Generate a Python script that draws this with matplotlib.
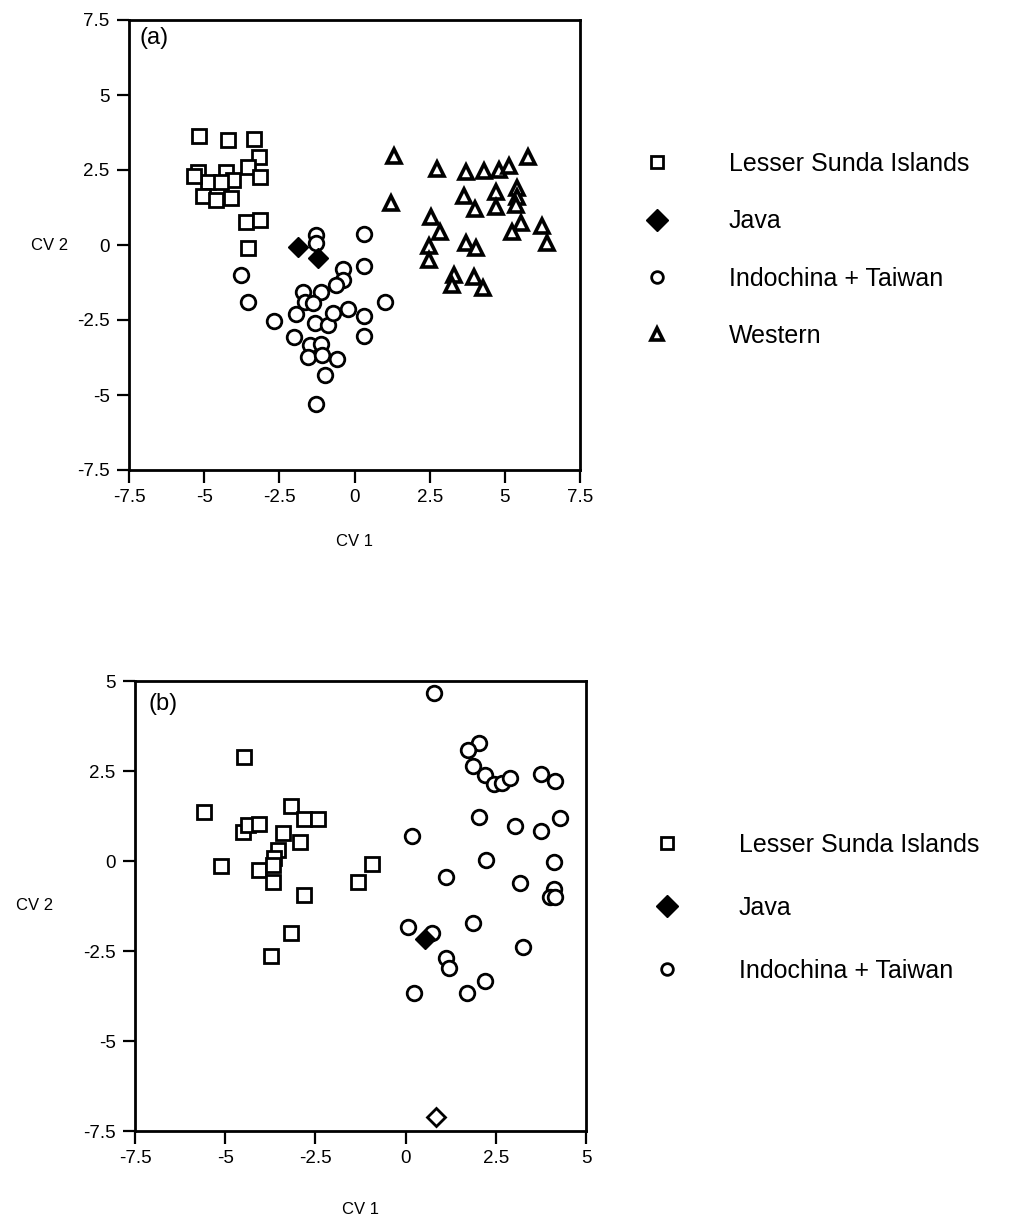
import matplotlib
matplotlib.use("Agg")
import matplotlib.pyplot as plt

plt.rcParams['font.family'] = ['Liberation Sans', 'DejaVu Sans']
plt.rcParams['axes.unicode_minus'] = False

# ---- panel (a) data (CV1, CV2) ----
lesser_a_x = [-5.17, -4.2, -3.33, -3.17, -5.2, -4.87, -4.27, -4.03, -3.53, -3.13,
              -5.03, -4.6, -4.1, -4.43, -5.33, -3.6, -3.13, -3.53]
lesser_a_y = [3.63, 3.5, 3.53, 2.93, 2.43, 2.1, 2.43, 2.17, 2.6, 2.27,
              1.63, 1.5, 1.57, 2.1, 2.3, 0.77, 0.83, -0.1]
java_a_x = [-1.87, -1.2]
java_a_y = [-0.07, -0.43]
indo_a_x = [-1.27, -1.27, 0.33, 0.3, -0.37, -0.37, -0.6, -3.77, -3.53, -1.7,
            -1.13, -1.63, -1.37, -1.93, -1.3, -0.87, -0.7, -0.2, 0.33, 1.0,
            -2.67, -2.0, 0.33, -1.47, -1.13, -1.53, -1.07, -0.57, -0.97, -1.27]
indo_a_y = [0.33, 0.07, 0.37, -0.7, -0.8, -1.17, -1.33, -1.0, -1.9, -1.57,
            -1.57, -1.9, -1.93, -2.3, -2.6, -2.67, -2.27, -2.13, -2.37, -1.9,
            -2.53, -3.07, -3.03, -3.33, -3.3, -3.73, -3.67, -3.8, -4.33, -5.3]
west_a_x = [1.3, 1.23, 2.73, 3.7, 4.3, 4.8, 5.13, 5.77, 3.63, 4.0,
            4.7, 4.7, 5.4, 5.4, 5.37, 2.53, 2.83, 5.53, 5.23, 6.23,
            6.4, 2.47, 2.47, 3.7, 4.03, 3.3, 3.23, 3.97, 4.27]
west_a_y = [2.97, 1.4, 2.53, 2.43, 2.47, 2.5, 2.63, 2.93, 1.63, 1.2,
            1.77, 1.27, 1.9, 1.6, 1.33, 0.93, 0.43, 0.73, 0.43, 0.63,
            0.07, -0.03, -0.5, 0.07, -0.1, -1.0, -1.33, -1.07, -1.43]

# ---- panel (b) data ----
lesser_b_x = [-4.47, -5.58, -3.17, -2.81, -2.44, -4.5, -4.36, -4.06, -3.39, -3.53,
              -2.94, -3.64, -5.11, -4.06, -3.67, -3.67, -2.81, -1.31, -0.94, -3.17,
              -3.72]
lesser_b_y = [2.89, 1.36, 1.53, 1.17, 1.17, 0.81, 1.0, 1.03, 0.78, 0.31,
              0.53, 0.08, -0.14, -0.25, -0.11, -0.58, -0.94, -0.58, -0.08, -2.0,
              -2.64]
java_b_x = [0.53]
java_b_y = [-2.17]
indo_b_x = [0.78, 2.03, 1.72, 1.86, 2.19, 2.44, 2.67, 2.89, 3.75, 4.14,
            2.03, 3.03, 3.75, 4.28, 0.17, 2.22, 4.11, 1.11, 3.17, 4.11,
            4.0, 4.14, 0.08, 0.72, 1.86, 3.25, 1.11, 1.19, 2.19, 0.22,
            1.69]
indo_b_y = [4.67, 3.28, 3.08, 2.64, 2.39, 2.14, 2.17, 2.31, 2.42, 2.22,
            1.22, 0.97, 0.83, 1.19, 0.69, 0.03, -0.03, -0.44, -0.61, -0.78,
            -1.0, -1.0, -1.83, -2.0, -1.72, -2.39, -2.69, -2.97, -3.33, -3.67,
            -3.67]
odd_b_x = [0.83]
odd_b_y = [-7.1]

ticks_a = [-7.5, -5, -2.5, 0, 2.5, 5, 7.5]
labels_a = ['-7.5', '-5', '-2.5', '0', '2.5', '5', '7.5']
ticks_b = [-7.5, -5, -2.5, 0, 2.5, 5]
labels_b = ['-7.5', '-5', '-2.5', '0', '2.5', '5']

W, H = 1011, 1220
fig = plt.figure(figsize=(W / 100, H / 100), dpi=100)
ax1 = fig.add_axes([129 / W, 1 - 470 / H, 451 / W, 450 / H])
ax2 = fig.add_axes([135 / W, 1 - 1131 / H, 451 / W, 450 / H])

sq = dict(marker='s', ms=10.5, mfc='white', mec='black', mew=2.0, ls='none')
di = dict(marker='D', ms=10.5, mfc='black', mec='black', mew=1.0, ls='none')
ci = dict(marker='o', ms=10.5, mfc='white', mec='black', mew=2.0, ls='none')
tr = dict(marker='^', ms=10, mfc='white', mec='black', mew=2.6, ls='none')


def style_axes(ax, ticks, labels, lim):
    ax.set_xlim(lim)
    ax.set_ylim(lim)
    ax.set_xticks(ticks, labels)
    ax.set_yticks(ticks, labels)
    ax.tick_params(direction='out', length=9, width=1.6, labelsize=13.5, pad=5)
    for s in ax.spines.values():
        s.set_linewidth(2)
    ax.set_xlabel('CV 1', fontsize=12, va='center')
    ax.set_ylabel('CV 2', fontsize=12, rotation=0, va='center', ha='center')


ax1.plot(lesser_a_x, lesser_a_y, label='Lesser Sunda Islands', **sq)
ax1.plot(indo_a_x, indo_a_y, label='Indochina + Taiwan', **ci)
ax1.plot(west_a_x, west_a_y, label='Western', **tr)
ax1.plot(java_a_x, java_a_y, label='Java', **di)
style_axes(ax1, ticks_a, labels_a, (-7.5, 7.5))
ax1.xaxis.set_label_coords(0.5, -72 / 450)
ax1.yaxis.set_label_coords(-79 / 451, 0.5)
ax1.text(0.024, 0.984, '(a)', transform=ax1.transAxes, fontsize=17, va='top')

ax2.plot(lesser_b_x, lesser_b_y, label='Lesser Sunda Islands', **sq)
ax2.plot(indo_b_x, indo_b_y, label='Indochina + Taiwan', **ci)
ax2.plot(java_b_x, java_b_y, label='Java', **di)
ax2.plot(odd_b_x, odd_b_y, marker='D', ms=9, mfc='white', mec='black', mew=2, ls='none',
         clip_on=False)
style_axes(ax2, ticks_b, labels_b, (-7.5, 5))
ax2.xaxis.set_label_coords(0.5, -79 / 450)
ax2.yaxis.set_label_coords(-100 / 451, 0.5)
ax2.text(0.029, 0.973, '(b)', transform=ax2.transAxes, fontsize=17, va='top')

order_a = ['Lesser Sunda Islands', 'Java', 'Indochina + Taiwan', 'Western']
order_b = ['Lesser Sunda Islands', 'Java', 'Indochina + Taiwan']


def add_legend(ax, order, anchor, spacing):
    h, l = ax.get_legend_handles_labels()
    hd = dict(zip(l, h))
    leg = ax.legend([hd[k] for k in order], order, loc='upper left',
                    bbox_to_anchor=anchor, bbox_transform=fig.transFigure,
                    frameon=False, fontsize=18, markerscale=0.8, handlelength=2.6,
                    handletextpad=1.6, labelspacing=spacing, borderpad=0,
                    borderaxespad=0)
    # the Java key is drawn larger than the others
    for hnd, txt in zip(leg.legend_handles, leg.get_texts()):
        if txt.get_text() == 'Java':
            hnd.set_markersize(11)


add_legend(ax1, order_a, (624 / W, 1 - 152 / H), 1.33)
add_legend(ax2, order_b, (634 / W, 1 - 833 / H), 1.55)

fig.savefig('out.png', dpi=100)
